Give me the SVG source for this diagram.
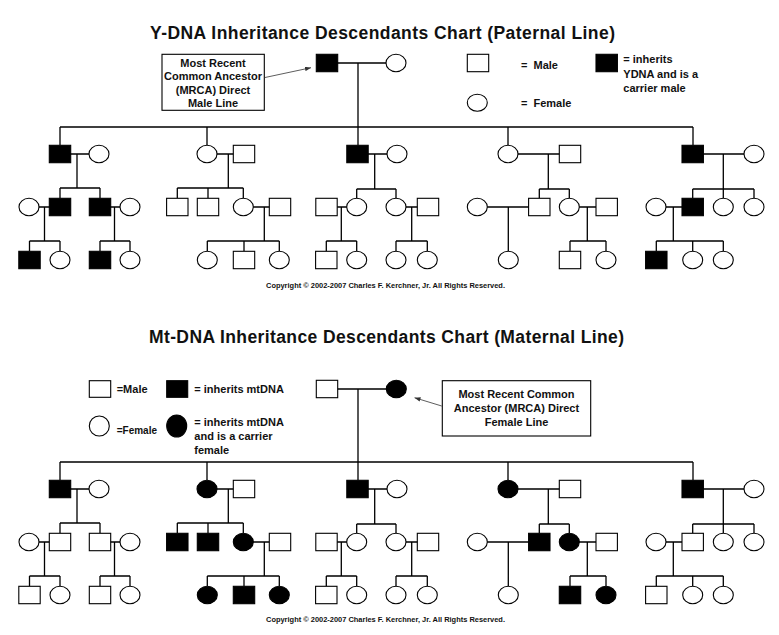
<svg xmlns="http://www.w3.org/2000/svg" xmlns:xlink="http://www.w3.org/1999/xlink" width="779" height="635" viewBox="0 0 779 635">
<style>
.bg{fill:#fff}
.m{fill:#fff;stroke:#000;stroke-width:1.1}
.k{fill:#000;stroke:#000;stroke-width:1.1}
.ln{fill:none;stroke:#000;stroke-width:1.3}
.box{fill:#fff;stroke:#000;stroke-width:1.1}
.arr{fill:none;stroke:#333;stroke-width:0.8}
text{font-family:"Liberation Sans",Arial,sans-serif;font-weight:bold;fill:#111}
.title{font-size:17.5px}
.t11{font-size:11px}
.t10{font-size:10px}
.cp{font-size:7px}
.mid{text-anchor:middle}
</style>
<defs>
<marker id="ah" viewBox="0 0 8 6" refX="8" refY="3" markerWidth="6" markerHeight="4.5" orient="auto" markerUnits="userSpaceOnUse">
<path d="M0,0L8,3L0,6z" fill="#333"/>
</marker>
<path id="gen" d="M60 154H99 M77 154V188 M60 188H100 M60 188V198 M100 188V198 M207 154H244 M228.3 154V188 M177.3 188H243.3 M177.3 188V198 M208 188V198 M243.3 188V198 M357.5 154H397 M374.7 154V189 M356.7 189H396 M356.7 189V198 M396 189V198 M508 154H570 M548.3 154V189 M539.3 189H569.3 M539.3 189V198 M569.3 189V198 M692.7 154H754 M723.3 154V198 M692.7 189H754 M692.7 189V198 M754 189V198 M29 207H60 M44.5 207V241 M29.5 241H60 M29.5 241V251 M60 241V251 M100 207H130 M114.5 207V241 M100 241H130 M100 241V251 M130 241V251 M243.3 207H280 M264.3 207V241 M207.3 241H279.3 M207.3 241V251 M244 241V251 M279.3 241V251 M326.5 207H356.7 M341.3 207V241 M326.3 241H356.7 M326.3 241V251 M356.7 241V251 M396 207H428 M411.7 207V241 M396 241H427.3 M396 241V251 M427.3 241V251 M477.3 207H539.3 M508.3 207V251 M569.3 207H606.7 M587.3 207V241 M570 241H606 M570 241V251 M606 241V251 M656 207H692.7 M673.3 207V241 M656.3 241H723.3 M656.3 241V251 M692.7 241V251 M723.3 241V251"/>
</defs>
<rect class="bg" x="0" y="0" width="779" height="635"/>

<text class="title" x="150" y="39.3" textLength="465" lengthAdjust="spacing">Y-DNA Inheritance Descendants Chart (Paternal Line)</text>
<text class="cp" x="266" y="287.5" textLength="239" lengthAdjust="spacingAndGlyphs">Copyright © 2002-2007 Charles F. Kerchner, Jr.  All Rights Reserved.</text>
<text class="title" x="149" y="342.7" textLength="475" lengthAdjust="spacing">Mt-DNA Inheritance Descendants Chart (Maternal Line)</text>
<text class="cp" x="266" y="621.8" textLength="239" lengthAdjust="spacingAndGlyphs">Copyright © 2002-2007 Charles F. Kerchner, Jr.  All Rights Reserved.</text>

<g id="connectors">
<path class="ln" d="M327 63H396 M358 63V145 M60 127H693 M60 127V145 M207 127V145 M508 127V145 M693 127V145"/>
<use xlink:href="#gen" href="#gen" class="ln"/>
<path class="ln" d="M327 389H396 M358 389V480 M60 462H693 M60 462V480 M207 462V480 M508 462V480 M693 462V480"/>
<use xlink:href="#gen" href="#gen" class="ln" transform="translate(0,335)"/>
<line class="arr" x1="265" y1="77.5" x2="311" y2="67.7" marker-end="url(#ah)"/>
<line class="arr" x1="441.7" y1="406" x2="414.5" y2="397.7" marker-end="url(#ah)"/>
</g>

<g id="note-ydna">
<rect class="box" x="162" y="54.3" width="102.3" height="56"/>
<text class="t11 mid" x="213" y="66.5">Most Recent</text>
<text class="t11 mid" x="213" y="80">Common Ancestor</text>
<text class="t11 mid" x="213" y="93.5">(MRCA) Direct</text>
<text class="t11 mid" x="213" y="107">Male Line</text>
</g>
<g id="legend-ydna">
<rect class="m" x="467.3" y="54.3" width="21.4" height="17.4"/>
<text class="t11" x="521" y="69" word-spacing="3">= Male</text>
<ellipse class="m" cx="477.3" cy="102.7" rx="10" ry="8.5"/>
<text class="t11" x="521" y="107" word-spacing="3">= Female</text>
<rect class="k" x="596" y="54.3" width="21.4" height="17.4"/>
<text class="t11" x="623.3" y="63.3">= inherits</text>
<text class="t11" x="623.3" y="77.5">YDNA and is a</text>
<text class="t11" x="623.3" y="91.7">carrier male</text>
</g>

<!-- Y-DNA chart nodes -->
<g id="y0m"><rect class="k" x="316.3" y="54.3" width="21.4" height="17.4"/></g>
<g id="y0f"><ellipse class="m" cx="396" cy="63" rx="10" ry="8.7"/></g>

<g id="y1am"><rect class="k" x="49.3" y="145.3" width="21.4" height="17.4"/></g>
<g id="y1af"><ellipse class="m" cx="99" cy="154" rx="10" ry="8.7"/></g>
<g id="y1bf"><ellipse class="m" cx="207" cy="154" rx="10" ry="8.7"/></g>
<g id="y1bm"><rect class="m" x="233.3" y="145.3" width="21.4" height="17.4"/></g>
<g id="y1cm"><rect class="k" x="346.8" y="145.3" width="21.4" height="17.4"/></g>
<g id="y1cf"><ellipse class="m" cx="397" cy="154" rx="10" ry="8.7"/></g>
<g id="y1df"><ellipse class="m" cx="508" cy="154" rx="10" ry="8.7"/></g>
<g id="y1dm"><rect class="m" x="559.3" y="145.3" width="21.4" height="17.4"/></g>
<g id="y1em"><rect class="k" x="682" y="145.3" width="21.4" height="17.4"/></g>
<g id="y1ef"><ellipse class="m" cx="754" cy="154" rx="10" ry="8.7"/></g>

<g id="y2a1"><ellipse class="m" cx="29" cy="207" rx="10" ry="8.7"/></g>
<g id="y2a2"><rect class="k" x="49.3" y="198.3" width="21.4" height="17.4"/></g>
<g id="y2a3"><rect class="k" x="89.3" y="198.3" width="21.4" height="17.4"/></g>
<g id="y2a4"><ellipse class="m" cx="130" cy="207" rx="10" ry="8.7"/></g>
<g id="y2b1"><rect class="m" x="166.6" y="198.3" width="21.4" height="17.4"/></g>
<g id="y2b2"><rect class="m" x="197.3" y="198.3" width="21.4" height="17.4"/></g>
<g id="y2b3"><ellipse class="m" cx="243.3" cy="207" rx="10" ry="8.7"/></g>
<g id="y2b4"><rect class="m" x="269.3" y="198.3" width="21.4" height="17.4"/></g>
<g id="y2c1"><rect class="m" x="315.8" y="198.3" width="21.4" height="17.4"/></g>
<g id="y2c2"><ellipse class="m" cx="356.7" cy="207" rx="10" ry="8.7"/></g>
<g id="y2c3"><ellipse class="m" cx="396" cy="207" rx="10" ry="8.7"/></g>
<g id="y2c4"><rect class="m" x="417.3" y="198.3" width="21.4" height="17.4"/></g>
<g id="y2d1"><ellipse class="m" cx="477.3" cy="207" rx="10" ry="8.7"/></g>
<g id="y2d2"><rect class="m" x="528.6" y="198.3" width="21.4" height="17.4"/></g>
<g id="y2d3"><ellipse class="m" cx="569.3" cy="207" rx="10" ry="8.7"/></g>
<g id="y2d4"><rect class="m" x="596" y="198.3" width="21.4" height="17.4"/></g>
<g id="y2e1"><ellipse class="m" cx="656" cy="207" rx="10" ry="8.7"/></g>
<g id="y2e2"><rect class="k" x="682" y="198.3" width="21.4" height="17.4"/></g>
<g id="y2e3"><ellipse class="m" cx="723.3" cy="207" rx="10" ry="8.7"/></g>
<g id="y2e4"><ellipse class="m" cx="754" cy="207" rx="10" ry="8.7"/></g>

<g id="y3a1"><rect class="k" x="18.8" y="251.3" width="21.4" height="17.4"/></g>
<g id="y3a2"><ellipse class="m" cx="60" cy="260" rx="10" ry="8.7"/></g>
<g id="y3a3"><rect class="k" x="89.3" y="251.3" width="21.4" height="17.4"/></g>
<g id="y3a4"><ellipse class="m" cx="130" cy="260" rx="10" ry="8.7"/></g>
<g id="y3b1"><ellipse class="m" cx="207.3" cy="260" rx="10" ry="8.7"/></g>
<g id="y3b2"><rect class="m" x="233.3" y="251.3" width="21.4" height="17.4"/></g>
<g id="y3b3"><ellipse class="m" cx="279.3" cy="260" rx="10" ry="8.7"/></g>
<g id="y3c1"><rect class="m" x="315.6" y="251.3" width="21.4" height="17.4"/></g>
<g id="y3c2"><ellipse class="m" cx="356.7" cy="260" rx="10" ry="8.7"/></g>
<g id="y3c3"><ellipse class="m" cx="396" cy="260" rx="10" ry="8.7"/></g>
<g id="y3c4"><ellipse class="m" cx="427.3" cy="260" rx="10" ry="8.7"/></g>
<g id="y3d1"><ellipse class="m" cx="508.3" cy="260" rx="10" ry="8.7"/></g>
<g id="y3d2"><rect class="m" x="559.3" y="251.3" width="21.4" height="17.4"/></g>
<g id="y3d3"><ellipse class="m" cx="606" cy="260" rx="10" ry="8.7"/></g>
<g id="y3e1"><rect class="k" x="645.6" y="251.3" width="21.4" height="17.4"/></g>
<g id="y3e2"><ellipse class="m" cx="692.7" cy="260" rx="10" ry="8.7"/></g>
<g id="y3e3"><ellipse class="m" cx="723.3" cy="260" rx="10" ry="8.7"/></g>

<g id="legend-mtdna">
<rect class="m" x="89.3" y="380.7" width="21.4" height="16.6"/>
<text class="t11" x="116.7" y="393.3">=Male</text>
<rect class="k" x="166.7" y="380.7" width="21" height="16.6"/>
<text class="t11" x="194.3" y="393.3">= inherits mtDNA</text>
<ellipse class="m" cx="99.3" cy="426" rx="10" ry="10"/>
<text class="t10" x="116.7" y="433.5">=Female</text>
<ellipse class="k" cx="176.7" cy="426" rx="10" ry="11"/>
<text class="t11" x="194.3" y="426.3">= inherits mtDNA</text>
<text class="t11" x="194.3" y="440.3">and is a carrier</text>
<text class="t11" x="194.3" y="454.3">female</text>
</g>
<g id="note-mtdna">
<rect class="box" x="442.3" y="380.7" width="148.4" height="55.3"/>
<text class="t11 mid" x="516.5" y="398.3">Most Recent Common</text>
<text class="t11 mid" x="516.5" y="412.3">Ancestor (MRCA) Direct</text>
<text class="t11 mid" x="516.5" y="426.3">Female Line</text>
</g>

<!-- Mt-DNA chart nodes -->
<g id="x0m"><rect class="m" x="316.3" y="380.3" width="21.4" height="17.4"/></g>
<g id="x0f"><ellipse class="k" cx="396.3" cy="389" rx="10" ry="8.7"/></g>

<g id="x1am"><rect class="k" x="49.3" y="480.3" width="21.4" height="17.4"/></g>
<g id="x1af"><ellipse class="m" cx="99" cy="489" rx="10" ry="8.7"/></g>
<g id="x1bf"><ellipse class="k" cx="207" cy="489" rx="10" ry="8.7"/></g>
<g id="x1bm"><rect class="m" x="233.3" y="480.3" width="21.4" height="17.4"/></g>
<g id="x1cm"><rect class="k" x="346.8" y="480.3" width="21.4" height="17.4"/></g>
<g id="x1cf"><ellipse class="m" cx="397" cy="489" rx="10" ry="8.7"/></g>
<g id="x1df"><ellipse class="k" cx="508" cy="489" rx="10" ry="8.7"/></g>
<g id="x1dm"><rect class="m" x="559.3" y="480.3" width="21.4" height="17.4"/></g>
<g id="x1em"><rect class="k" x="682" y="480.3" width="21.4" height="17.4"/></g>
<g id="x1ef"><ellipse class="m" cx="754" cy="489" rx="10" ry="8.7"/></g>

<g id="x2a1"><ellipse class="m" cx="29" cy="542" rx="10" ry="8.7"/></g>
<g id="x2a2"><rect class="m" x="49.3" y="533.3" width="21.4" height="17.4"/></g>
<g id="x2a3"><rect class="m" x="89.3" y="533.3" width="21.4" height="17.4"/></g>
<g id="x2a4"><ellipse class="m" cx="130" cy="542" rx="10" ry="8.7"/></g>
<g id="x2b1"><rect class="k" x="166.6" y="533.3" width="21.4" height="17.4"/></g>
<g id="x2b2"><rect class="k" x="197.3" y="533.3" width="21.4" height="17.4"/></g>
<g id="x2b3"><ellipse class="k" cx="243.3" cy="542" rx="10" ry="8.7"/></g>
<g id="x2b4"><rect class="m" x="269.3" y="533.3" width="21.4" height="17.4"/></g>
<g id="x2c1"><rect class="m" x="315.8" y="533.3" width="21.4" height="17.4"/></g>
<g id="x2c2"><ellipse class="m" cx="356.7" cy="542" rx="10" ry="8.7"/></g>
<g id="x2c3"><ellipse class="m" cx="396" cy="542" rx="10" ry="8.7"/></g>
<g id="x2c4"><rect class="m" x="417.3" y="533.3" width="21.4" height="17.4"/></g>
<g id="x2d1"><ellipse class="m" cx="477.3" cy="542" rx="10" ry="8.7"/></g>
<g id="x2d2"><rect class="k" x="528.6" y="533.3" width="21.4" height="17.4"/></g>
<g id="x2d3"><ellipse class="k" cx="569.3" cy="542" rx="10" ry="8.7"/></g>
<g id="x2d4"><rect class="m" x="596" y="533.3" width="21.4" height="17.4"/></g>
<g id="x2e1"><ellipse class="m" cx="656" cy="542" rx="10" ry="8.7"/></g>
<g id="x2e2"><rect class="m" x="682" y="533.3" width="21.4" height="17.4"/></g>
<g id="x2e3"><ellipse class="m" cx="723.3" cy="542" rx="10" ry="8.7"/></g>
<g id="x2e4"><ellipse class="m" cx="754" cy="542" rx="10" ry="8.7"/></g>

<g id="x3a1"><rect class="m" x="18.8" y="586.3" width="21.4" height="17.4"/></g>
<g id="x3a2"><ellipse class="m" cx="60" cy="595" rx="10" ry="8.7"/></g>
<g id="x3a3"><rect class="m" x="89.3" y="586.3" width="21.4" height="17.4"/></g>
<g id="x3a4"><ellipse class="m" cx="130" cy="595" rx="10" ry="8.7"/></g>
<g id="x3b1"><ellipse class="k" cx="207.3" cy="595" rx="10" ry="8.7"/></g>
<g id="x3b2"><rect class="k" x="233.3" y="586.3" width="21.4" height="17.4"/></g>
<g id="x3b3"><ellipse class="k" cx="279.3" cy="595" rx="10" ry="8.7"/></g>
<g id="x3c1"><rect class="m" x="315.6" y="586.3" width="21.4" height="17.4"/></g>
<g id="x3c2"><ellipse class="m" cx="356.7" cy="595" rx="10" ry="8.7"/></g>
<g id="x3c3"><ellipse class="m" cx="396" cy="595" rx="10" ry="8.7"/></g>
<g id="x3c4"><ellipse class="m" cx="427.3" cy="595" rx="10" ry="8.7"/></g>
<g id="x3d1"><ellipse class="m" cx="508.3" cy="595" rx="10" ry="8.7"/></g>
<g id="x3d2"><rect class="k" x="559.3" y="586.3" width="21.4" height="17.4"/></g>
<g id="x3d3"><ellipse class="k" cx="606" cy="595" rx="10" ry="8.7"/></g>
<g id="x3e1"><rect class="m" x="645.6" y="586.3" width="21.4" height="17.4"/></g>
<g id="x3e2"><ellipse class="m" cx="692.7" cy="595" rx="10" ry="8.7"/></g>
<g id="x3e3"><ellipse class="m" cx="723.3" cy="595" rx="10" ry="8.7"/></g>
</svg>
